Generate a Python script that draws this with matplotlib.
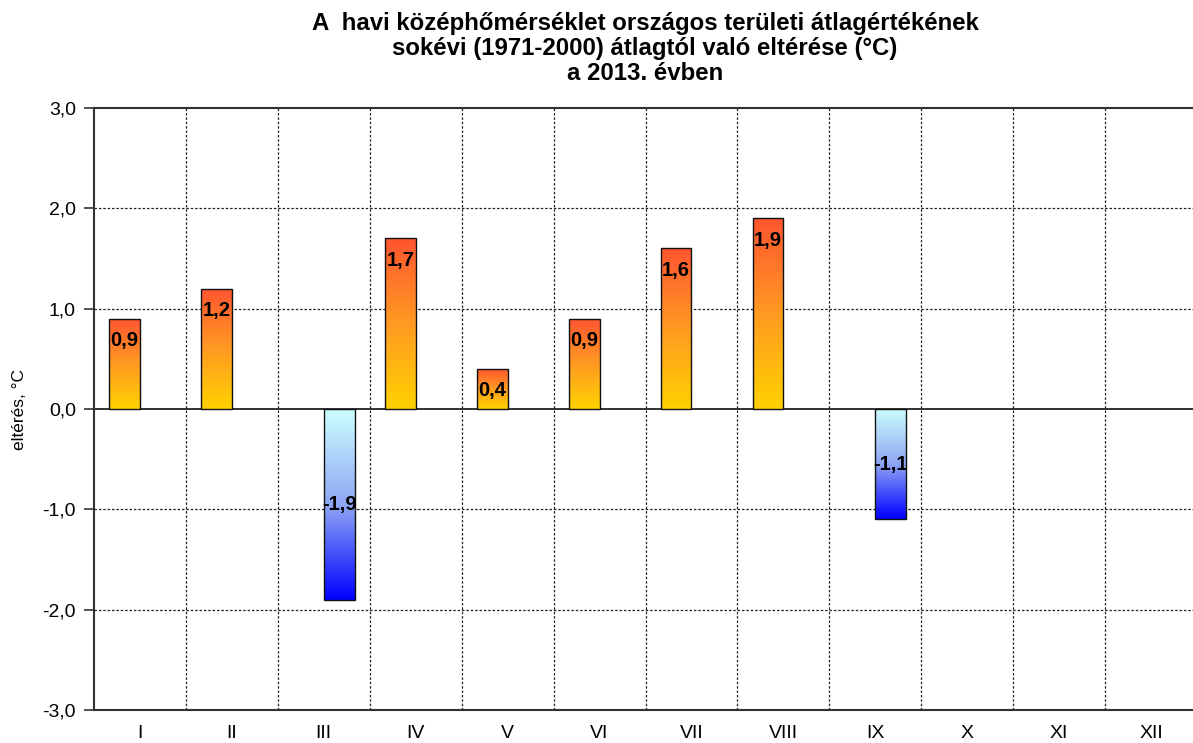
import numpy as np
import matplotlib
matplotlib.use('Agg')
import matplotlib.pyplot as plt
from matplotlib.colors import LinearSegmentedColormap
from matplotlib.ticker import FixedLocator, FuncFormatter

plt.rcParams['font.family'] = ['Liberation Sans', 'DejaVu Sans']

# monthly deviation, 2013
months = ['I', 'II', 'III', 'IV', 'V', 'VI', 'VII', 'VIII', 'IX', 'X', 'XI', 'XII']
values = [0.9, 1.2, -1.9, 1.7, 0.4, 0.9, 1.6, 1.9, -1.1, np.nan, np.nan, np.nan]

title = ('A  havi középhőmérséklet országos területi átlagértékének\n'
         'sokévi (1971-2000) átlagtól való eltérése (°C)\n'
         'a 2013. évben')

warm = LinearSegmentedColormap.from_list('warm', ['#FFD200', '#FF9A22', '#FF5530'])
cold = LinearSegmentedColormap.from_list('cold', ['#CCFFFF', '#8FA6F4', '#0000FF'])

fig = plt.figure(figsize=(11.93, 7.43), dpi=100)
ax = fig.add_axes([94/1193, 1 - 710/743, (1197 - 94)/1193, (710 - 108)/743])

x = np.arange(len(months))
vals = np.array(values, dtype=float)
pos = np.where(vals > 0, vals, np.nan)
neg = np.where(vals < 0, vals, np.nan)
w = 0.335

bars_p = ax.bar(x - w/2, pos, w, facecolor='none', edgecolor='#111111', linewidth=1.0, zorder=4)
bars_n = ax.bar(x + w/2, neg, w, facecolor='none', edgecolor='#111111', linewidth=1.0, zorder=4)

grad = np.linspace(0, 1, 256).reshape(-1, 1)
for b, cm in [(p, warm) for p in bars_p] + [(n, cold) for n in bars_n]:
    h = b.get_height()
    if np.isnan(h):
        continue
    x0 = b.get_x()
    y0, y1 = b.get_y(), b.get_y() + h
    if h > 0:
        ext = [x0, x0 + b.get_width(), y0, y1]
    else:
        ext = [x0, x0 + b.get_width(), y1, y0]
    im = ax.imshow(grad, cmap=cm, aspect='auto', extent=ext, origin='lower' if h > 0 else 'upper',
                   zorder=3, interpolation='bilinear')
    im.set_clip_path(b)

for b, v in zip(bars_p, pos):
    if np.isnan(v):
        continue
    ax.annotate(f'{v:.1f}'.replace('.', ','), (b.get_x() + b.get_width()/2, v),
                xytext=(0, -9), textcoords='offset points', ha='center', va='top',
                fontsize=14.5, fontweight='bold', zorder=5)
for b, v in zip(bars_n, neg):
    if np.isnan(v):
        continue
    ax.text(b.get_x() + b.get_width()/2, v/2, f'{v:.1f}'.replace('.', ','),
            ha='center', va='center', fontsize=14.5, fontweight='bold', zorder=5)

ax.set_xlim(-0.5, len(months) - 0.5)
ax.set_ylim(-3, 3)
ax.set_xticks(x)
ax.set_xticklabels(months, fontsize=14)
ax.xaxis.set_minor_locator(FixedLocator(np.arange(0.5, len(months) - 0.5, 1)))
ax.tick_params(axis='x', which='both', length=0, pad=11)
ax.set_yticks(np.arange(-3, 3.1, 1))
ax.yaxis.set_major_formatter(FuncFormatter(lambda v, p: f'{v:.1f}'.replace('.', ',')))
ax.tick_params(axis='y', length=7, width=1.2, pad=6, labelsize=14, color='#333333')

ax.grid(axis='x', which='minor', linestyle=(0, (2, 1.5)), color='#222222', linewidth=0.9)
for yv in [-2, -1, 1, 2]:
    ax.axhline(yv, linestyle=(0, (2, 1.5)), color='#222222', linewidth=0.9, zorder=1)
ax.axhline(0, color='#222222', linewidth=1.3, zorder=2)
ax.set_axisbelow(True)

for s in ['left', 'top', 'bottom']:
    ax.spines[s].set_linewidth(1.5)
    ax.spines[s].set_color('#333333')
ax.spines['right'].set_visible(False)

ax.set_ylabel('eltérés, °C', fontsize=12.5)
ax.yaxis.set_label_coords((27 - 94)/1103, 0.5)
fig.text(645/1193, 1 - 12/743, title, ha='center', va='top', fontsize=17.3,
         fontweight='bold', linespacing=1.1)

fig.savefig('out.png', dpi=100)
